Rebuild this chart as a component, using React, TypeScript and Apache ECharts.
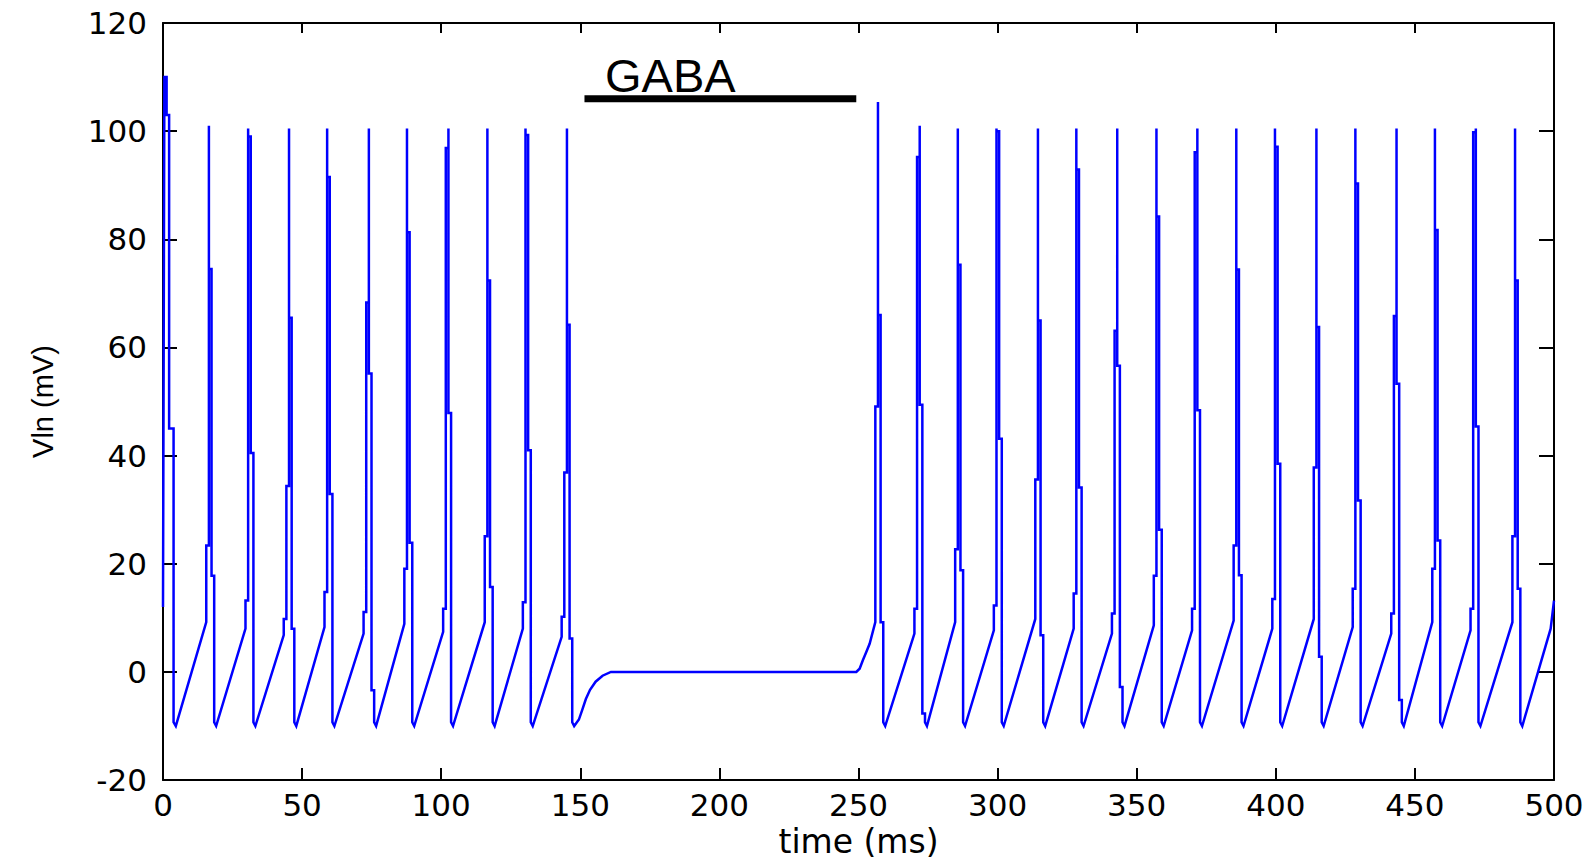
import React, { useEffect, useRef } from "react";
import * as echarts from "echarts";

// ---- axis settings ----
const X_MIN = 0;
const X_MAX = 500;
const X_STEP = 50;
const Y_MIN = -20;
const Y_MAX = 120;
const Y_STEP = 20;
const X_TITLE = "time (ms)";
const Y_TITLE = "Vln (mV)";
const GABA_LABEL = "GABA";

// ---- data (time in ms, voltage in mV) ----
// first (initial) spike, drawn vertex by vertex
const firstSpike: [number, number][] = [
  [0, 12], [0.5, 110], [1.3, 110], [1.3, 103], [2.2, 103], [2.2, 45], [3.8, 45], [3.8, -9.3], [4.6, -10],
];

// width of one sample column inside a spike (ms)
const DT = 0.95;

// peak times of the following spikes
const spikeTimes = [
  16.5, 30.6, 45.3, 59.0, 74.0, 87.7, 102.6, 116.6, 130.3, 145.2,
  257.0, 272.0, 285.7, 299.6, 314.5, 328.3, 343.0, 357.1, 371.8, 385.8,
  399.7, 414.6, 428.6, 443.4, 457.2, 471.9, 486.0,
];
// voltage at the end of each slow ramp (last sample before the upstroke)
const rampTops = [
  9.2, 8.0, 6.8, 8.3, 7.1, 8.9, 7.4, 9.2, 8.0, 6.5,
  9.2, 7.1, 9.2, 7.7, 9.8, 8.0, 7.1, 8.6, 7.7, 9.5,
  8.0, 9.8, 8.3, 7.1, 9.2, 7.7, 9.2,
];
// samples on the upstroke, before the peak
const riseLevels = [
  [23.4], [13.2], [9.8, 34.4], [14.8], [11.1, 68.3], [19.1], [11.7, 96.9], [25.1], [12.9], [10.2, 36.9],
  [49.1], [11.7, 95.2], [22.7], [12.3], [35.6], [14.5], [10.8, 63.1], [17.8], [11.7, 96.1], [23.4],
  [13.5], [37.8], [15.4], [10.8, 65.8], [19.1], [11.7, 99.8], [25.1],
];
// peak samples
const peakValues = [
  101, 100.5, 100.5, 100.5, 100.5, 100.5, 100.5, 100.5, 100.5, 100.5,
  105.4, 101, 100.5, 100.5, 100.5, 100.5, 100.5, 100.5, 100.5, 100.5,
  100.5, 100.5, 100.5, 100.5, 100.5, 100.5, 100.5,
];
// samples on the downstroke, after the peak
const fallLevels = [
  [74.5, 17.8], [99, 40.5], [65.5, 8.0], [91.5, 32.9], [55.2, -3.4], [81.3, 23.9], [47.9], [72.4, 15.7], [99.3, 41.0], [64.2, 6.2],
  [66, 9.2], [49.4, -7.7], [75.3, 18.8], [100, 43.1], [65, 6.8], [92.9, 34.1], [56.6, -2.8], [84.2, 26.3], [48.4], [74.4, 17.9],
  [97.1, 38.5], [63.8, 2.8], [90.3, 31.7], [53.3, -5.2], [81.7, 24.3], [45.4], [72.4, 15.4],
];
// after-hyperpolarisation minimum
const troughLevels = [-9.3, -10];

// silent period while GABA is applied
const gabaWindow = [151.5, 249.2];
const gabaBarLevel = 106;
const gabaTrace: [number, number][] = [
  [149.5, -8.8], [150.7, -7], [152, -5], [153.5, -3.3], [155.5, -1.8], [158, -0.7], [161, 0],
  [249.2, 0], [250.4, 0.6], [251.6, 2.2], [252.8, 3.7], [254, 5.2],
];
// last ramp, cut by the end of the record
const traceEnd: [number, number][] = [[498.8, 8.0], [500, 13.2]];

function buildTrace(): [number, number][] {
  const pts: [number, number][] = firstSpike.map((p) => [p[0], p[1]] as [number, number]);
  let gabaInserted = false;
  spikeTimes.forEach((tp, i) => {
    if (!gabaInserted && tp > gabaWindow[1]) {
      gabaTrace.forEach((p) => pts.push([p[0], p[1]]));
      gabaInserted = true;
    }
    const rise = riseLevels[i];
    const fall = fallLevels[i];
    const n = rise.length;
    // end of the slow ramp
    pts.push([tp - n * DT, rampTops[i]]);
    // each upstroke sample holds for one column
    rise.forEach((v, k) => {
      pts.push([tp - (n - k) * DT, v]);
      pts.push([tp - (n - k - 1) * DT, v]);
    });
    // peak and first downstroke sample share the peak column
    pts.push([tp, peakValues[i]]);
    fall.forEach((v, k) => {
      pts.push([tp + k * DT, v]);
      pts.push([tp + (k + 1) * DT, v]);
    });
    const tEnd = tp + fall.length * DT;
    pts.push([tEnd, troughLevels[0]]);
    pts.push([tEnd + 0.7, troughLevels[1]]);
  });
  traceEnd.forEach((p) => pts.push([p[0], p[1]]));
  return pts;
}

const AXIS_COLOR = "#000000";
const LABEL_FONT = "DejaVu Sans";

export default function App() {
  const ref = useRef<HTMLDivElement>(null);

  useEffect(() => {
    if (!ref.current) return;
    const chart = echarts.init(ref.current, undefined, { renderer: "svg" });
    const trace = buildTrace();
    const gabaBar: [number, number][] = [
      [gabaWindow[0], gabaBarLevel],
      [gabaWindow[1], gabaBarLevel],
    ];

    const axisLine = { show: true, onZero: false, lineStyle: { color: AXIS_COLOR, width: 2 } };
    const option: any = {
      animation: false,
      backgroundColor: "#ffffff",
      grid: { left: 163, top: 23, width: 1391, height: 759 },
      xAxis: [
        {
          type: "value",
          position: "bottom",
          min: X_MIN,
          max: X_MAX,
          interval: X_STEP,
          name: X_TITLE,
          nameLocation: "middle",
          nameGap: 44,
          nameTextStyle: { color: AXIS_COLOR, fontFamily: LABEL_FONT, fontSize: 33 },
          axisLine,
          axisTick: { show: true, inside: true, length: 12, lineStyle: { color: AXIS_COLOR, width: 2 } },
          axisLabel: {
            show: true,
            color: AXIS_COLOR,
            fontFamily: LABEL_FONT,
            fontSize: 31,
            margin: 9,
            showMinLabel: true,
            showMaxLabel: true,
          },
          splitLine: { show: false },
        },
        {
          type: "value",
          position: "top",
          min: X_MIN,
          max: X_MAX,
          interval: X_STEP,
          axisLine,
          axisTick: { show: true, inside: true, length: 10, lineStyle: { color: AXIS_COLOR, width: 2 } },
          axisLabel: { show: false },
          splitLine: { show: false },
        },
      ],
      yAxis: [
        {
          type: "value",
          position: "left",
          min: Y_MIN,
          max: Y_MAX,
          interval: Y_STEP,
          name: Y_TITLE,
          nameLocation: "middle",
          nameGap: 106,
          nameTextStyle: { color: AXIS_COLOR, fontFamily: "Liberation Sans", fontSize: 29 },
          axisLine,
          axisTick: { show: true, inside: true, length: 14, lineStyle: { color: AXIS_COLOR, width: 2 } },
          axisLabel: {
            show: true,
            color: AXIS_COLOR,
            fontFamily: LABEL_FONT,
            fontSize: 31,
            margin: 16,
            showMinLabel: true,
            showMaxLabel: true,
          },
          splitLine: { show: false },
        },
        {
          type: "value",
          position: "right",
          min: Y_MIN,
          max: Y_MAX,
          interval: Y_STEP,
          axisLine,
          axisTick: { show: true, inside: true, length: 15, lineStyle: { color: AXIS_COLOR, width: 2 } },
          axisLabel: { show: false },
          splitLine: { show: false },
        },
      ],
      series: [
        {
          type: "line",
          xAxisIndex: 0,
          yAxisIndex: 0,
          data: trace,
          symbol: "none",
          showSymbol: false,
          silent: true,
          lineStyle: { color: "#0000ff", width: 2.5, join: "miter" },
        },
        {
          type: "line",
          xAxisIndex: 0,
          yAxisIndex: 0,
          data: gabaBar,
          symbol: "none",
          showSymbol: false,
          silent: true,
          lineStyle: { color: "#000000", width: 7, cap: "butt" },
        },
      ],
      graphic: [
        {
          type: "text",
          x: 605,
          y: 75,
          silent: true,
          style: {
            text: GABA_LABEL,
            font: '47px "Liberation Sans", Arial, sans-serif',
            fill: "#000000",
            align: "left",
            verticalAlign: "middle",
          },
        },
      ],
    };
    chart.setOption(option);
    return () => chart.dispose();
  }, []);

  return (
    <div
      ref={ref}
      style={{ position: "absolute", left: 0, top: 0, width: 1596, height: 863, background: "#fff" }}
    />
  );
}
